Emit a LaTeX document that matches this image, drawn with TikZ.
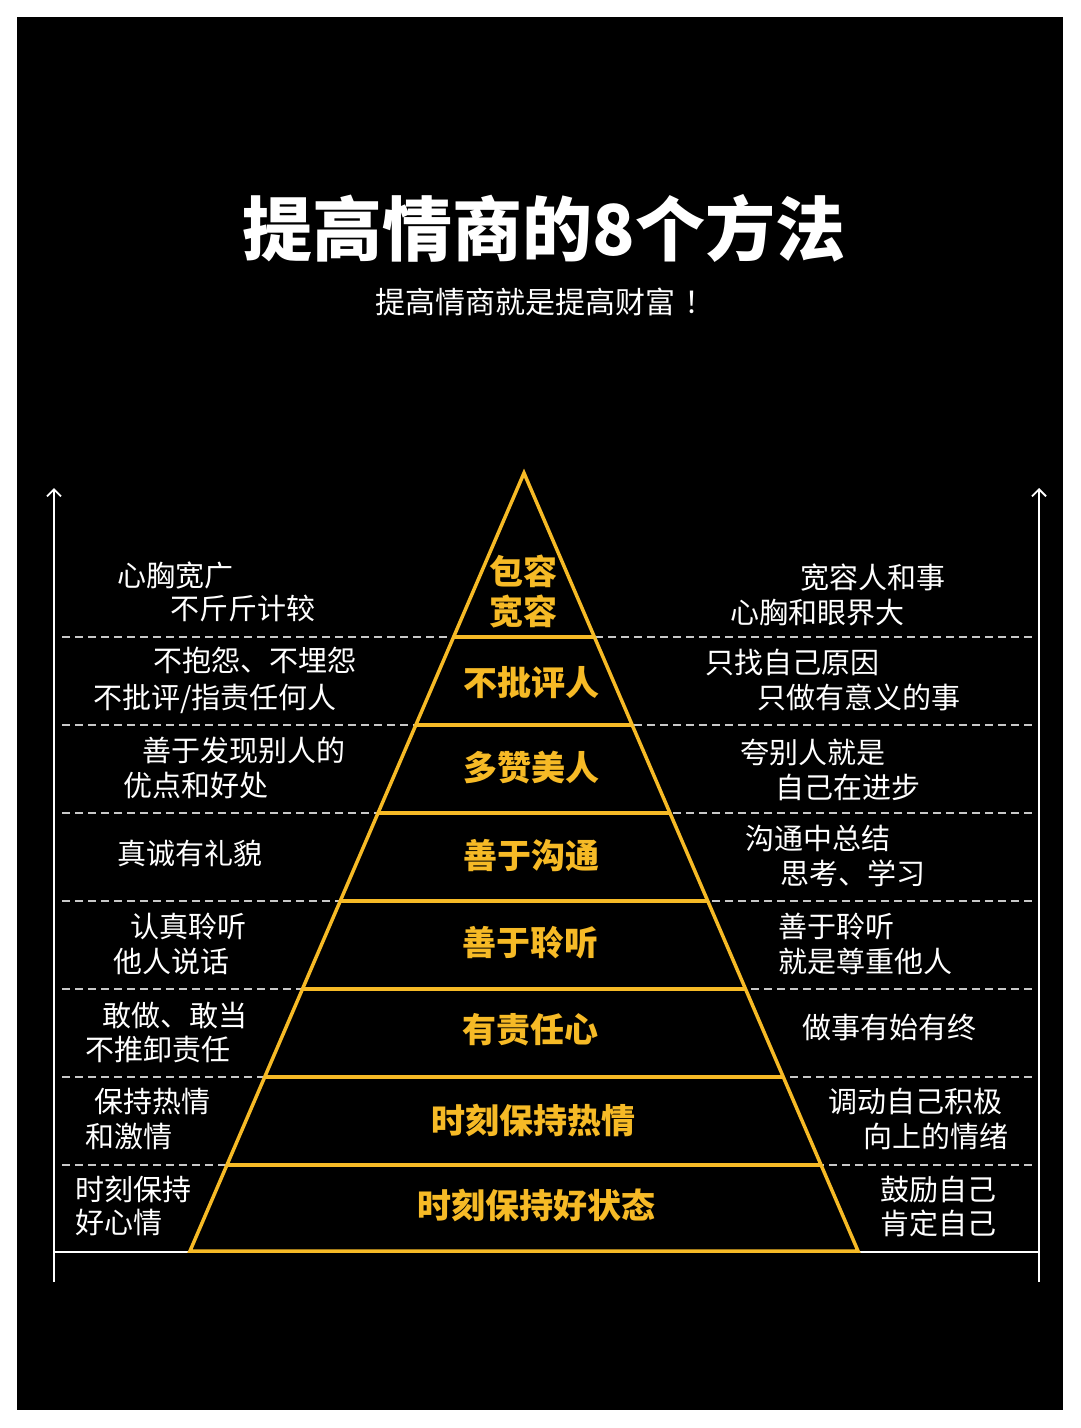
\documentclass[tikz,border=0pt]{standalone}
\usepackage{fontspec}
\setmainfont{Noto Sans CJK SC}
\newfontfamily\cjk{Noto Sans CJK SC}
\usetikzlibrary{arrows.meta}
\definecolor{pyel}{RGB}{246,186,38}
\definecolor{dashgray}{RGB}{200,200,200}
\tikzset{
  x=1pt, y=-1pt,
  lbl/.style={font=\cjk\fontsize{29}{29}\selectfont, text=white, inner sep=0pt, anchor=west, text height=0.88em, text depth=0.12em, yshift=-8pt},
  lvl/.style={font=\cjk\bfseries\fontsize{34}{40}\selectfont, text=pyel, inner sep=0pt, align=center},
  sep/.style={draw=dashgray, line width=1.3pt, dash pattern=on 8pt off 5pt},
  pyr/.style={draw=pyel, line width=3.5pt, line join=miter},
  axis/.style={draw=white, line width=1.8pt},
}
\begin{document}
\begin{tikzpicture}
\useasboundingbox (0,0) rectangle (1080,1428);
\fill[white] (0,0) rectangle (1080,1428);
\fill[black] (17,17) rectangle (1063,1410);
% title
\node[font=\cjk\bfseries\fontsize{70}{70}\selectfont, text=white, inner sep=0pt] (title) at (544,228) {提高情商的8个方法};
\node[font=\cjk\fontsize{30}{30}\selectfont, text=white, inner sep=0pt, anchor=west] (sub) at (375,302) {提高情商就是提高财富\hspace{0.3em}！};
% axes
\coordinate (la0) at (54,1282); \coordinate (la1) at (54,488);
\coordinate (ra0) at (1039,1282); \coordinate (ra1) at (1039,488);
\draw[axis, -{Straight Barb[length=7pt,width=14pt,line width=1.8pt]}] (la0) -- (la1);
\draw[axis, -{Straight Barb[length=7pt,width=14pt,line width=1.8pt]}] (ra0) -- (ra1);
\coordinate (bl0) at (54,1252); \coordinate (bl1) at (1039,1252);
\draw[axis] (bl0) -- (bl1);
% dashed separators
\foreach \yy [count=\i] in {637,725,813,901,989,1077,1165}{
  \coordinate (dl\i) at (62,\yy); \coordinate (dr\i) at (1032,\yy);
  \draw[sep] (dl\i) -- (dr\i);
}
% pyramid
\coordinate (apex) at (524,473);
\coordinate (baseL) at (190,1251);
\coordinate (baseR) at (858,1251);
\fill[black] (apex) -- (baseL) -- (baseR) -- cycle;
\draw[pyr] (apex) -- (baseL) -- (baseR) -- cycle;
\foreach \yy [count=\i] in {637,725,813,901,989,1077,1165}{
  \coordinate (pl\i) at ({524-0.42931*(\yy-473)},\yy);
  \coordinate (pr\i) at ({524+0.42931*(\yy-473)},\yy);
  \draw[pyr] (pl\i) -- (pr\i);
}
% level labels
\node[lvl] (L1) at (523,592) {包容\\宽容};
\node[lvl] (L2) at (531,683) {不批评人};
\node[lvl] (L3) at (531,768) {多赞美人};
\node[lvl] (L4) at (531,856) {善于沟通};
\node[lvl] (L5) at (530,943) {善于聆听};
\node[lvl] (L6) at (530,1030) {有责任心};
\node[lvl] (L7) at (533,1120) {时刻保持热情};
\node[lvl] (L8) at (536,1205) {时刻保持好状态};
% left texts
\node[lbl] (a1) at (117,575) {心胸宽广};
\node[lbl] (a2) at (170,608) {不斤斤计较};
\node[lbl] (b1) at (153,660) {不抱怨、不埋怨};
\node[lbl] (b2) at (93,697) {不批评/指责任何人};
\node[lbl] (c1) at (142,750) {善于发现别人的};
\node[lbl] (c2) at (123,785) {优点和好处};
\node[lbl] (d1) at (117,853) {真诚有礼貌};
\node[lbl] (e1) at (130,926) {认真聆听};
\node[lbl] (e2) at (113,961) {他人说话};
\node[lbl] (f1) at (102,1015) {敢做、敢当};
\node[lbl] (f2) at (85,1049) {不推卸责任};
\node[lbl] (g1) at (94,1101) {保持热情};
\node[lbl] (g2) at (85,1136) {和激情};
\node[lbl] (h1) at (75,1189) {时刻保持};
\node[lbl] (h2) at (75,1222) {好心情};
% right texts
\node[lbl] (A1) at (800,577) {宽容人和事};
\node[lbl] (A2) at (730,612) {心胸和眼界大};
\node[lbl] (B1) at (705,662) {只找自己原因};
\node[lbl] (B2) at (757,697) {只做有意义的事};
\node[lbl] (C1) at (740,752) {夸别人就是};
\node[lbl] (C2) at (775,787) {自己在进步};
\node[lbl] (D1) at (745,838) {沟通中总结};
\node[lbl] (D2) at (780,873) {思考、学习};
\node[lbl] (E1) at (778,926) {善于聆听};
\node[lbl] (E2) at (778,961) {就是尊重他人};
\node[lbl] (F1) at (802,1027) {做事有始有终};
\node[lbl] (G1) at (828,1101) {调动自己积极};
\node[lbl] (G2) at (863,1136) {向上的情绪};
\node[lbl] (H1) at (880,1189) {鼓励自己};
\node[lbl] (H2) at (880,1223) {肯定自己};
\end{tikzpicture}
\end{document}
